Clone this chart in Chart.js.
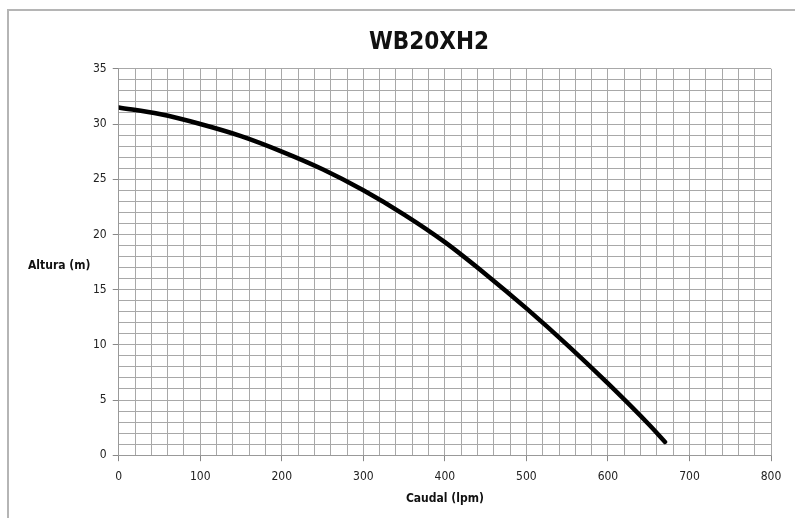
<!DOCTYPE html>
<html>
<head>
<meta charset="utf-8">
<script src="https://cdn.jsdelivr.net/npm/chart.js@4"></script>
<style>
  html, body { margin: 0; padding: 0; background: #fff; }
  #wrap { width: 795px; height: 518px; }
</style>
</head>
<body>
<div id="wrap"><canvas id="pumpChart" width="795" height="518"></canvas></div>
<script>
// caudal (lpm) vs altura (m)
var caudal = [0, 50, 100, 150, 200, 250, 300, 350, 400, 450, 500, 550, 600, 650, 670];
var altura = [31.5, 30.9, 30.0, 28.9, 27.5, 25.9, 24.0, 21.8, 19.3, 16.4, 13.3, 10.0, 6.5, 2.8, 1.2];
var xTicks = [0, 100, 200, 300, 400, 500, 600, 700, 800];
var yTicks = [0, 5, 10, 15, 20, 25, 30, 35];

var font = "'Liberation Sans Narrow', 'DejaVu Sans Condensed', Arial, sans-serif";

// draws the frame and the horizontal y-axis label
var extras = {
    id: 'extras',
    beforeDraw: function(chart) {
        var c = chart.ctx;
        c.save();
        c.strokeStyle = '#b5b5b5';
        c.lineWidth = 2;
        c.beginPath();
        c.moveTo(8, 530);
        c.lineTo(8, 10);
        c.lineTo(800, 10);
        c.stroke();
        c.restore();
    },
    afterDraw: function(chart) {
        var c = chart.ctx;
        c.save();
        c.fillStyle = '#111';
        c.font = 'bold 12px ' + font;
        c.textAlign = 'left';
        c.textBaseline = 'middle';
        c.fillText('Altura (m)', 28, 266);
        c.restore();
    }
};

var ctx = document.getElementById('pumpChart').getContext('2d');
var pumpChart = new Chart(ctx, {
    type: 'line',
    data: {
        datasets: [{
            label: 'WB20XH2',
            data: caudal.map(function(x, i) { return { x: x, y: altura[i] }; }),
            borderColor: '#000',
            borderWidth: 4.5,
            pointRadius: 0,
            fill: false,
            cubicInterpolationMode: 'monotone',
            borderCapStyle: 'round'
        }]
    },
    options: {
        responsive: false,
        animation: false,
        layout: { padding: { left: 87, right: 24, top: 19, bottom: 12 } },
        scales: {
            x: {
                type: 'linear',
                min: 0,
                max: 800,
                afterBuildTicks: function(axis) {
                    var t = [];
                    for (var v = 0; v <= 800; v += 20) t.push({ value: v });
                    axis.ticks = t;
                },
                ticks: {
                    autoSkip: false,
                    maxRotation: 0,
                    color: '#222',
                    font: { family: font, size: 12 },
                    padding: 8,
                    callback: function(v) { return xTicks.indexOf(v) >= 0 ? String(v) : ''; }
                },
                grid: {
                    color: '#a8a8a8',
                    lineWidth: 1,
                    tickLength: 6,
                    tickColor: function(c) { return xTicks.indexOf(c.tick.value) >= 0 ? '#888' : 'rgba(0,0,0,0)'; }
                },
                border: { color: '#999' },
                title: {
                    display: true,
                    text: 'Caudal (lpm)',
                    color: '#111',
                    font: { family: font, size: 12, weight: 'bold' },
                    padding: { top: 0, bottom: 0 }
                }
            },
            y: {
                min: 0,
                max: 35,
                afterBuildTicks: function(axis) {
                    var t = [];
                    for (var v = 0; v <= 35; v += 1) t.push({ value: v });
                    axis.ticks = t;
                },
                ticks: {
                    autoSkip: false,
                    color: '#222',
                    font: { family: font, size: 12 },
                    padding: 6,
                    callback: function(v) { return yTicks.indexOf(v) >= 0 ? String(v) : ''; }
                },
                grid: {
                    color: '#a8a8a8',
                    lineWidth: 1,
                    tickLength: 6,
                    tickColor: function(c) { return yTicks.indexOf(c.tick.value) >= 0 ? '#888' : 'rgba(0,0,0,0)'; }
                },
                border: { color: '#999' }
            }
        },
        plugins: {
            legend: { display: false },
            tooltip: { enabled: false },
            title: {
                display: true,
                text: 'WB20XH2',
                color: '#111',
                font: { family: font, size: 24, weight: 'bold' },
                padding: { top: 9, bottom: 12 }
            }
        }
    },
    plugins: [extras]
});
</script>
</body>
</html>
